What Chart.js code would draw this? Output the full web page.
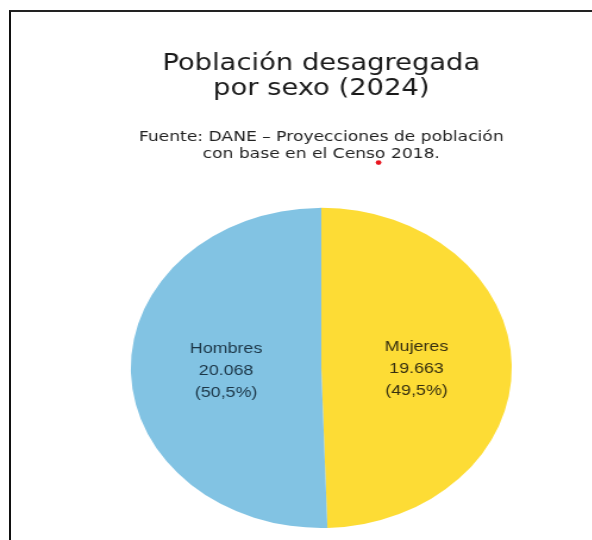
<!DOCTYPE html>
<html lang="es">
<head>
<meta charset="utf-8">
<title>Población desagregada por sexo (2024)</title>
<script src="https://cdn.jsdelivr.net/npm/chart.js@4.4.1/dist/chart.umd.min.js"></script>
<style>
    html, body { margin: 0; padding: 0; background: #fff; overflow: hidden; }
    body { width: 592px; height: 540px; position: relative; }
    #frame {
        position: absolute; left: 9px; top: 10px; right: -10px; bottom: -10px;
        border-left: 2px solid #111; border-top: 2px solid #222;
    }
    /* the source picture is stretched sideways, so the whole chart is too */
    #wrap {
        position: absolute; left: 0; top: 0; width: 540px; height: 540px;
        transform: scaleX(1.19); transform-origin: 0 0;
    }
</style>
</head>
<body>
<div id="frame"></div>
<div id="wrap"><canvas id="myChart" width="540" height="540"></canvas></div>
<script>
// data (miles de personas)
const categories = ["Mujeres", "Hombres"];
const population = [19663, 20068];
const sliceColors = ["#FDDC35", "#82C3E3"];
const labelColors = ["#362f10", "#1b3546"];

const titleLines = ["Población desagregada", "por sexo (2024)"];
const sourceLines = ["Fuente: DANE – Proyecciones de población", "con base en el Censo 2018."];

function formatThousands(n) {
    return String(n).replace(/\B(?=(\d{3})+(?!\d))/g, ".");
}

const sliceLabels = {
    id: "sliceLabels",
    afterDatasetsDraw(chart) {
        const ctx = chart.ctx;
        const meta = chart.getDatasetMeta(0);
        const total = population.reduce((a, b) => a + b, 0);
        ctx.save();
        ctx.font = "15px 'Liberation Sans', Arial, sans-serif";
        ctx.textAlign = "center";
        ctx.textBaseline = "middle";
        meta.data.forEach((arc, i) => {
            const pos = arc.tooltipPosition();
            const pct = (population[i] / total * 100).toFixed(1).replace(".", ",");
            const lines = [categories[i], formatThousands(population[i]), "(" + pct + "%)"];
            ctx.fillStyle = labelColors[i];
            lines.forEach((t, k) => {
                ctx.fillText(t, pos.x, pos.y + (k - 1) * 22 + 2);
            });
        });
        ctx.restore();
    },
    afterDraw(chart) {
        // little red mark under "Censo" as in the source image
        const ctx = chart.ctx;
        const tb = chart.titleBlock;
        if (!tb) return;
        ctx.save();
        ctx.font = "14.4px 'DejaVu Sans', Verdana, sans-serif";
        const cx = (chart.chartArea.left + chart.chartArea.right) / 2;
        const full = ctx.measureText(sourceLines[1]).width;
        const pre = ctx.measureText("con base en el Cens").width;
        const x = cx - full / 2 + pre + 3;
        const y = tb.bottom + 33;
        ctx.fillStyle = "#e8141e";
        ctx.beginPath();
        ctx.arc(x, y, 2.4, 0, Math.PI * 2);
        ctx.fill();
        ctx.restore();
    }
};

new Chart(document.getElementById("myChart"), {
    type: "pie",
    data: {
        labels: categories,
        datasets: [{
            data: population,
            backgroundColor: sliceColors,
            borderWidth: 0
        }]
    },
    options: {
        responsive: false,
        animation: false,
        devicePixelRatio: 1,
        layout: { padding: { top: 0, bottom: 12, left: 0, right: 0 } },
        plugins: {
            legend: { display: false },
            tooltip: { enabled: false },
            title: {
                display: true,
                text: titleLines,
                color: "#1a1a1a",
                font: { family: "'DejaVu Sans', Verdana, sans-serif", size: 23, weight: "normal", lineHeight: 1.1 },
                padding: { top: 51, bottom: 28 }
            },
            subtitle: {
                display: true,
                text: sourceLines,
                color: "#222",
                font: { family: "'DejaVu Sans', Verdana, sans-serif", size: 14.4, weight: "normal", lineHeight: 1.12 },
                padding: { top: 0, bottom: 46 }
            }
        }
    },
    plugins: [sliceLabels]
});
</script>
</body>
</html>
